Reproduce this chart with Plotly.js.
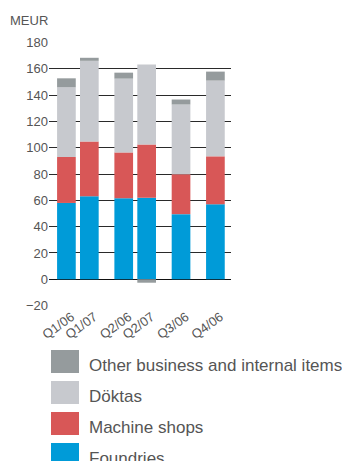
<!DOCTYPE html>
<html>
<head>
<meta charset="utf-8">
<script src="https://cdn.plot.ly/plotly-3.0.1.min.js"></script>
<style>
html,body{margin:0;padding:0;background:#fff;}
#chart{width:342px;height:461px;}
</style>
</head>
<body>
<div id="chart"></div>
<script>
// ---- data ----
const categories = ['Q1/06', 'Q1/07', 'Q2/06', 'Q2/07', 'Q3/06', 'Q4/06'];
const foundries    = [58, 63, 61.6, 62, 49.5, 57];
const machineShops = [34.9, 41.7, 34.8, 40.4, 30.3, 36.4];
const doktas       = [53, 61.3, 56.1, 60.8, 53, 57.6];
const otherItems   = [6.8, 2.3, 4.5, -2.6, 3.8, 6.8];
const yTickValues  = [-20, 0, 20, 40, 60, 80, 100, 120, 140, 160, 180];
const seriesNames  = ['Foundries', 'Machine shops', 'Döktas', 'Other business and internal items'];
const unitLabel    = 'MEUR';

// ---- styling ----
const colors = ['#009bd8', '#d85757', '#c7c9ce', '#959b9d'];
const font = 'Liberation Sans, Arial, Helvetica, sans-serif';
const textColor = '#555555';

// category slots: spacers between pairs/groups
const spacersAfter = [1, 2, 1, 2, 2, 0];
const slotOrder = [];
let sp = 0;
categories.forEach((c, i) => {
  slotOrder.push(c);
  for (let k = 0; k < spacersAfter[i]; k++) { sp++; slotOrder.push('\u200b'.repeat(sp)); }
});

const seriesValues = [foundries, machineShops, doktas, otherItems];
const barWidth = 1.63;
const traces = seriesValues.map((vals, i) => ({
  type: 'bar',
  x: categories,
  y: vals,
  name: seriesNames[i],
  width: barWidth,
  marker: {color: colors[i], line: {width: 0}},
  hoverinfo: 'x+y+name',
  showlegend: false
}));

// layout geometry
const W = 342, H = 461;
const mL = 49, mR = 111, mT = 42, mB = 155;
const plotW = W - mL - mR, plotH = H - mT - mB;
const px2x = p => (p - mL) / plotW;
const py2y = p => (H - mB - p) / plotH;

// manual legend (top to bottom)
const legendOrder = [3, 2, 1, 0];
const boxTops = [350, 381, 412, 443];
const shapes = [];
const annotations = [{
  xref: 'paper', yref: 'paper', x: px2x(8), y: py2y(20.5),
  xanchor: 'left', yanchor: 'middle', showarrow: false,
  text: unitLabel, font: {family: font, size: 13, color: textColor}
}];
legendOrder.forEach((si, k) => {
  const t = boxTops[k];
  shapes.push({
    type: 'rect', xref: 'paper', yref: 'paper',
    x0: px2x(51), x1: px2x(79), y0: py2y(t + 23), y1: py2y(t),
    fillcolor: colors[si], line: {width: 0}, layer: 'above'
  });
  annotations.push({
    xref: 'paper', yref: 'paper', x: px2x(87), y: py2y(t + 15.5),
    xanchor: 'left', yanchor: 'middle', showarrow: false,
    text: seriesNames[si], font: {family: font, size: 17, color: textColor}
  });
});

const layout = {
  width: W, height: H,
  margin: {l: mL, r: mR, t: mT, b: mB, pad: 0},
  paper_bgcolor: '#ffffff', plot_bgcolor: '#ffffff',
  barmode: 'relative',
  showlegend: false,
  font: {family: font, size: 13, color: textColor},
  xaxis: {
    type: 'category',
    categoryorder: 'array', categoryarray: slotOrder,
    range: [-1.52, 14.36],
    tickmode: 'array', tickvals: categories, ticktext: categories,
    tickangle: -36,
    ticklabelshift: 5,
    showgrid: false, zeroline: false, showline: false, ticks: '',
    tickfont: {family: font, size: 13, color: textColor},
    fixedrange: true
  },
  yaxis: {
    range: [-20.3, 180.3],
    tickmode: 'array', tickvals: yTickValues,
    showgrid: true, gridcolor: '#2a2a2a', gridwidth: 1,
    zeroline: true, zerolinecolor: '#111111', zerolinewidth: 1.3,
    showline: false, ticks: '',
    tickfont: {family: font, size: 13, color: textColor},
    fixedrange: true
  },
  shapes: shapes,
  annotations: annotations
};

Plotly.newPlot('chart', traces, layout, {displayModeBar: false, staticPlot: true});
</script>
</body>
</html>
